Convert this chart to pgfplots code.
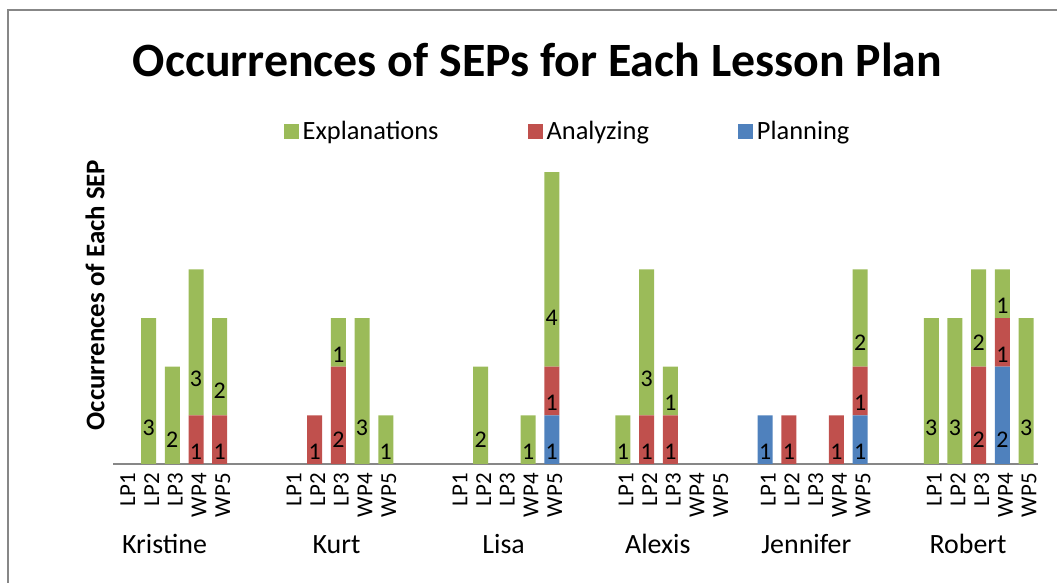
\documentclass[border=0pt]{standalone}
\usepackage{pgfplots}
\pgfplotsset{compat=1.18}
\usepackage{pgfplotstable}
\usepackage{fontspec}
\setmainfont{Carlito}
\definecolor{cE}{HTML}{9BBB59}
\definecolor{cA}{HTML}{C0504D}
\definecolor{cP}{HTML}{4F81BD}
\definecolor{frame}{HTML}{878787}

% positions: Kristine 0-4, Kurt 7-11, Lisa 14-18, Alexis 21-25, Jennifer 27-31, Robert 34-38
\pgfplotstableread{
x v
0 0
1 0
2 0
3 0
4 0
7 0
8 0
9 0
10 0
11 0
14 0
15 0
16 0
17 0
18 1
21 0
22 0
23 0
24 0
25 0
27 1
28 0
29 0
30 0
31 1
34 0
35 0
36 0
37 2
38 0
}\planning

\pgfplotstableread{
x v
0 0
1 0
2 0
3 1
4 1
7 0
8 1
9 2
10 0
11 0
14 0
15 0
16 0
17 0
18 1
21 0
22 1
23 1
24 0
25 0
27 0
28 1
29 0
30 1
31 1
34 0
35 0
36 2
37 1
38 0
}\analyzing

\pgfplotstableread{
x v
0 0
1 3
2 2
3 3
4 2
7 0
8 0
9 1
10 3
11 1
14 0
15 2
16 0
17 1
18 4
21 1
22 3
23 1
24 0
25 0
27 0
28 0
29 0
30 0
31 2
34 3
35 3
36 2
37 1
38 3
}\explanations

\begin{document}
\begin{tikzpicture}
\useasboundingbox (0,0) rectangle (1057bp,583bp);
\draw[frame, line width=2bp] (8bp,0) -- (8bp,573bp) -- (1057bp,573bp);
\node[font=\bfseries\fontsize{48}{48}\selectfont, anchor=base] at (537.5bp,506bp) {Occurrences of SEPs for Each Lesson Plan};
\node[rotate=90, font=\bfseries\fontsize{27}{27}\selectfont] at (95bp,288bp) {Occurrences of Each SEP};
\begin{axis}[
  at={(113bp,119bp)}, anchor=south west,
  scale only axis, width=925bp, height=292bp,
  xmin=-0.5, xmax=38.5, ymin=0, ymax=6,
  ybar stacked, bar width=15bp,
  axis y line=none, axis x line*=bottom,
  x axis line style={-, draw=frame, line width=1.2bp},
  xtick={0,1,2,3,4,7,8,9,10,11,14,15,16,17,18,21,22,23,24,25,27,28,29,30,31,34,35,36,37,38},
  xticklabels={LP1,LP2,LP3,WP4,WP5,LP1,LP2,LP3,WP4,WP5,LP1,LP2,LP3,WP4,WP5,LP1,LP2,LP3,WP4,WP5,LP1,LP2,LP3,WP4,WP5,LP1,LP2,LP3,WP4,WP5},
  major tick length=0pt,
  xticklabel style={rotate=90, anchor=east, font=\fontsize{23}{23}\selectfont, inner sep=1bp, xshift=-8bp, yshift=-3bp},
  clip=false,
  point meta=explicit symbolic,
  nodes near coords={\ifnum\pgfplotspointmeta=0 \else\pgfplotspointmeta\fi},
  every node near coord/.append style={anchor=center, yshift=-\pgfplotspointmeta*12.1667bp, font=\fontsize{24}{24}\selectfont, text=black},
  legend columns=3, reverse legend,
  legend style={draw=none, fill=none, at={(0.4903,1.14)}, anchor=center, font=\fontsize{26.5}{26.5}\selectfont,
    inner sep=0pt, nodes={inner sep=0pt},
    /tikz/every even column/.append style={column sep=89bp},
    /tikz/every odd column/.append style={column sep=4bp}},
  legend image code/.code={\fill[#1] (0bp,-7.5bp) rectangle (15bp,7.5bp);},
]
\addplot[fill=cP, draw=none] table[x=x, y=v, meta=v] {\planning};
\addplot[fill=cA, draw=none] table[x=x, y=v, meta=v] {\analyzing};
\addplot[fill=cE, draw=none] table[x=x, y=v, meta=v] {\explanations};
\legend{Planning, Analyzing, Explanations}
\node[font=\fontsize{28}{28}\selectfont, anchor=base, yshift=-89bp] at (axis cs:1.67,0) {Kristine};
\node[font=\fontsize{28}{28}\selectfont, anchor=base, yshift=-89bp] at (axis cs:8.92,0) {Kurt};
\node[font=\fontsize{28}{28}\selectfont, anchor=base, yshift=-89bp] at (axis cs:15.97,0) {Lisa};
\node[font=\fontsize{28}{28}\selectfont, anchor=base, yshift=-89bp] at (axis cs:22.47,0) {Alexis};
\node[font=\fontsize{28}{28}\selectfont, anchor=base, yshift=-89bp] at (axis cs:28.73,0) {Jennifer};
\node[font=\fontsize{28}{28}\selectfont, anchor=base, yshift=-89bp] at (axis cs:35.55,0) {Robert};
\end{axis}
\end{tikzpicture}
\end{document}
